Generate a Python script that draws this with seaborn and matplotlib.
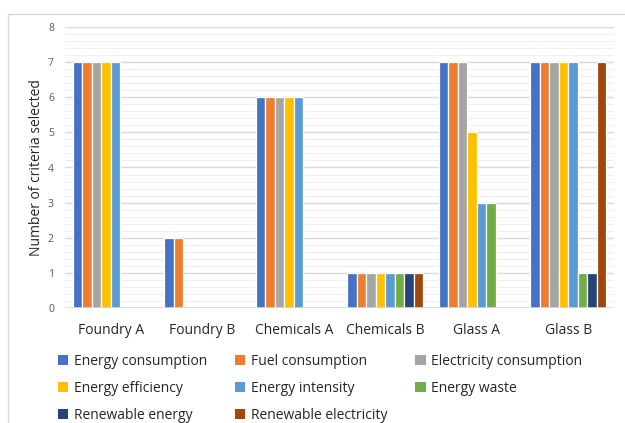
import matplotlib
matplotlib.use("Agg")
import matplotlib.pyplot as plt
import seaborn as sns
import pandas as pd
from matplotlib.patches import Patch, Rectangle
from matplotlib.ticker import MultipleLocator

# Sites and criteria
sites = ["Foundry A", "Foundry B", "Chemicals A", "Chemicals B", "Glass A", "Glass B"]
criteria = ["Energy consumption", "Fuel consumption", "Electricity consumption",
            "Energy efficiency", "Energy intensity", "Energy waste",
            "Renewable energy", "Renewable electricity"]

# Number of criteria selected, one list per criterion (in site order)
energy_consumption = [7, 2, 6, 1, 7, 7]
fuel_consumption = [7, 2, 6, 1, 7, 7]
electricity_consumption = [7, 0, 6, 1, 7, 7]
energy_efficiency = [7, 0, 6, 1, 5, 7]
energy_intensity = [7, 0, 6, 1, 3, 7]
energy_waste = [0, 0, 0, 1, 3, 1]
renewable_energy = [0, 0, 0, 1, 0, 1]
renewable_electricity = [0, 0, 0, 1, 0, 7]

colors = ["#4472C4", "#ED7D31", "#A5A5A5", "#FFC000",
          "#5B9BD5", "#70AD47", "#264478", "#9E480E"]

series = [energy_consumption, fuel_consumption, electricity_consumption,
          energy_efficiency, energy_intensity, energy_waste,
          renewable_energy, renewable_electricity]

df = pd.DataFrame(
    [(s, c, v[i]) for c, v in zip(criteria, series) for i, s in enumerate(sites)],
    columns=["site", "criterion", "count"],
)

FONT = "Open Sans"
plt.rcParams["font.family"] = [FONT, "DejaVu Sans"]

W, H = 625, 423
fig = plt.figure(figsize=(W / 100, H / 100), dpi=100)
fig.patch.set_facecolor("white")

# outer chart frame
fig.patches.append(Rectangle((8 / W, -0.1), 1.2, (H - 14) / H + 0.1,
                             transform=fig.transFigure, fill=False,
                             edgecolor="#D9D9D9", linewidth=1.0, zorder=0))

left, right = 65 / W, 614 / W
bottom, top = (H - 308) / H, (H - 27) / H
ax = fig.add_axes([left, bottom, right - left, top - bottom])

sns.barplot(data=df, x="site", y="count", hue="criterion", hue_order=criteria,
            order=sites, palette=colors, width=0.83, saturation=1,
            edgecolor="white", linewidth=0.9, ax=ax, legend=False, zorder=3)

# hide empty bars so they don't cover the baseline
for p in ax.patches:
    if p.get_height() == 0:
        p.set_visible(False)

ax.set_ylim(0, 8)
ax.set_xlim(-0.5, len(sites) - 0.5)
ax.yaxis.set_major_locator(MultipleLocator(1))
ax.yaxis.set_minor_locator(MultipleLocator(0.2))
ax.grid(axis="y", which="major", color="#D9D9D9", linewidth=1.0, zorder=0)
ax.grid(axis="y", which="minor", color="#F0F0F0", linewidth=0.8, zorder=0)
ax.grid(axis="x", visible=False)
ax.set_axisbelow(True)
for s in ax.spines.values():
    s.set_visible(False)
ax.axhline(0, color="#D9D9D9", linewidth=1.2, zorder=4)

ax.tick_params(axis="y", which="both", length=0, labelsize=7.5,
               labelcolor="#595959", pad=8)
ax.tick_params(axis="x", length=0, labelsize=10, labelcolor="#262626", pad=11)
ax.set_xlabel("")
ax.set_ylabel("Number of criteria selected", fontsize=10, color="#262626",
              labelpad=3)

# legend laid out row by row in three columns
handles = [Patch(facecolor=c, edgecolor="none") for c in colors]
order = [0, 3, 6, 1, 4, 7, 2, 5]
leg = fig.legend([handles[i] for i in order], [criteria[i] for i in order],
                 ncol=3, loc="upper left", bbox_to_anchor=(58 / W, (H - 354) / H),
                 frameon=False, fontsize=10, handlelength=0.75, handleheight=0.75,
                 handletextpad=0.4, columnspacing=2.0, labelspacing=0.85,
                 borderaxespad=0, borderpad=0)
for t in leg.get_texts():
    t.set_color("#262626")

fig.savefig("out.png", dpi=100, facecolor="white")
